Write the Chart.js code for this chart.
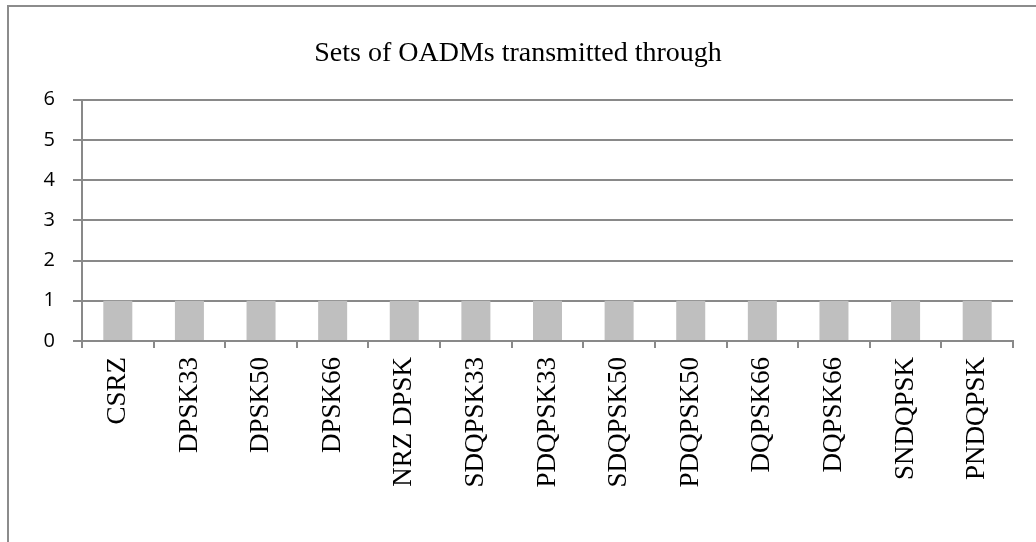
<!DOCTYPE html>
<html>
<head>
<meta charset="utf-8">
<script src="https://cdn.jsdelivr.net/npm/chart.js@4.4.1/dist/chart.umd.min.js"></script>
<style>
    html, body { margin: 0; padding: 0; background: #fff; overflow: hidden; }
    #wrap { position: relative; width: 1036px; height: 542px; }
    #frame {
        position: absolute; left: 7px; top: 5px; width: 1100px; height: 600px;
        border-left: 2px solid #8c8c8c; border-top: 2px solid #8c8c8c;
    }
    #chart { position: absolute; left: 0; top: 0; }
</style>
</head>
<body>
<div id="wrap">
    <div id="frame"></div>
    <canvas id="chart" width="1036" height="542"></canvas>
</div>
<script>
const formats = ['CSRZ', 'DPSK33', 'DPSK50', 'DPSK66', 'NRZ DPSK', 'SDQPSK33', 'PDQPSK33',
    'SDQPSK50', 'PDQPSK50', 'DQPSK66', 'DQPSK66', 'SNDQPSK', 'PNDQPSK'];
const oadmSets = [1, 1, 1, 1, 1, 1, 1, 1, 1, 1, 1, 1, 1];
const yTicks = [0, 1, 2, 3, 4, 5, 6];

const lineGray = '#898989';

const ctx = document.getElementById('chart').getContext('2d');
new Chart(ctx, {
    type: 'bar',
    data: {
        labels: formats,
        datasets: [{
            data: oadmSets,
            backgroundColor: '#bfbfbf',
            borderWidth: 0,
            categoryPercentage: 1,
            barPercentage: 0.405
        }]
    },
    options: {
        responsive: false,
        animation: false,
        layout: { padding: { left: 0, right: 0, top: 0, bottom: 0 } },
        plugins: {
            legend: { display: false },
            tooltip: { enabled: false },
            title: {
                display: true,
                text: 'Sets of OADMs transmitted through',
                color: '#000',
                font: { family: '"Liberation Serif", "Times New Roman", serif', size: 28, weight: 'normal', lineHeight: 1.2 },
                padding: { top: 37, bottom: 29 }
            }
        },
        scales: {
            x: {
                grid: {
                    display: true,
                    drawOnChartArea: false,
                    drawTicks: true,
                    tickLength: 7,
                    color: lineGray,
                    lineWidth: 2
                },
                border: { color: lineGray, width: 2 },
                ticks: {
                    color: '#000',
                    minRotation: 90,
                    maxRotation: 90,
                    autoSkip: false,
                    padding: 9,
                    font: { family: '"Liberation Serif", "Times New Roman", serif', size: 27 }
                },
                afterFit: function (scale) {
                    scale.height = 201;
                }
            },
            y: {
                min: 0,
                max: 6,
                afterBuildTicks: function (scale) {
                    scale.ticks = yTicks.map(v => ({ value: v }));
                },
                grid: {
                    color: lineGray,
                    lineWidth: 2,
                    drawTicks: true,
                    tickLength: 9
                },
                border: { color: lineGray, width: 2 },
                ticks: {
                    color: '#000',
                    padding: 18,
                    font: { family: '"Open Sans", Lato, sans-serif', size: 20 }
                },
                afterFit: function (scale) {
                    scale.width = 82;
                }
            },
            // empty right-hand axis keeps the plot off the right edge while the title stays centred
            yPad: {
                position: 'right',
                display: true,
                grid: { drawOnChartArea: false, drawTicks: false, display: false },
                border: { display: false },
                ticks: { display: false },
                afterFit: function (scale) {
                    scale.width = 23;
                }
            }
        }
    }
});
</script>
</body>
</html>
